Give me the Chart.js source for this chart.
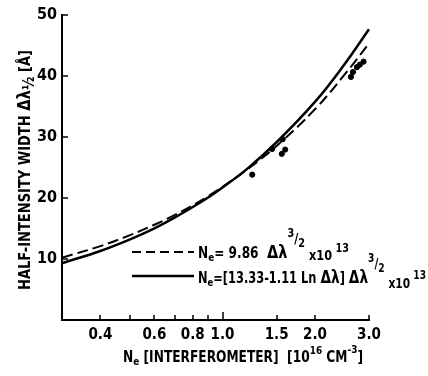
<!DOCTYPE html>
<html>
<head>
<meta charset="utf-8">
<script src="https://cdn.jsdelivr.net/npm/chart.js@4.4.1/dist/chart.umd.min.js"></script>
<style>
  html, body { margin: 0; padding: 0; background: #fff; }
  canvas { display: block; }
</style>
</head>
<body>
<canvas id="widthChart" width="428" height="376"></canvas>
<script>
// electron density (10^16 cm^-3) vs half-intensity width (A)
const dashedDensity = [0.3, 0.4, 0.5, 0.6, 0.7, 0.8, 0.9, 1.0, 1.2, 1.5, 2.0, 2.5, 3.0, 3.15];
const dashedWidth = [10.2, 12.1, 13.9, 15.6, 17.2, 18.8, 20.3, 21.8, 24.6, 28.5, 34.5, 40.2, 45.3, 46.8];
const solidDensity = [0.3, 0.4, 0.5, 0.6, 0.7, 0.8, 0.9, 1.0, 1.2, 1.5, 2.0, 2.5, 3.0, 3.07];
const solidWidth = [9.3, 11.3, 13.2, 15.0, 16.8, 18.5, 20.1, 21.7, 24.7, 29.1, 35.7, 41.9, 47.6, 48.3];
const measuredDensity = [1.25, 1.45, 1.56, 1.57, 1.60, 2.62, 2.66, 2.74, 2.80, 2.88];
const measuredWidth = [23.8, 28.0, 27.2, 29.6, 27.9, 39.8, 40.6, 41.4, 41.8, 42.3];
const xTickValues = [0.4, 0.5, 0.6, 0.7, 0.8, 0.9, 1.0, 1.5, 2.0, 3.0];
const xTickLabels = ['0.4', '', '0.6', '', '0.8', '', '1.0', '1.5', '2.0', '3.0'];
const yTickValues = [10, 20, 30, 40, 50];

const FONT = "'Liberation Sans Narrow', 'DejaVu Sans Condensed', 'Arial Narrow', sans-serif";

document.addEventListener('DOMContentLoaded', function() {
    const ctx = document.getElementById('widthChart').getContext('2d');

    function toPoints(xs, ys) {
        return xs.map((v, i) => ({ x: v, y: ys[i] }));
    }

    // draws a run of [text, size, dy] pieces, squeezed to a given width
    function drawRich(c, parts, x, y, width, align) {
        c.save();
        let total = 0;
        parts.forEach(p => {
            c.font = `bold ${p[1]}px ${FONT}`;
            total += c.measureText(p[0]).width;
        });
        const k = width ? width / total : 1;
        c.translate(x, y);
        c.scale(k, 1);
        let cx = align === 'center' ? -total / 2 : 0;
        c.textBaseline = 'alphabetic';
        c.textAlign = 'left';
        parts.forEach(p => {
            c.font = `bold ${p[1]}px ${FONT}`;
            c.fillText(p[0], cx, p[2] || 0);
            cx += c.measureText(p[0]).width;
        });
        c.restore();
    }

    const tickMarks = {
        id: 'tickMarks',
        afterDraw(chart) {
            const c = chart.ctx;
            const a = chart.chartArea;
            const { x, y } = chart.scales;
            c.save();
            c.strokeStyle = '#000';
            c.lineWidth = 1.5;
            c.beginPath();
            xTickValues.forEach(v => {
                const px = Math.round(x.getPixelForValue(v));
                c.moveTo(px, a.bottom);
                c.lineTo(px, a.bottom - (v === 1 ? 8 : 5));
            });
            yTickValues.forEach(v => {
                const py = Math.round(y.getPixelForValue(v));
                c.moveTo(a.left, py);
                c.lineTo(a.left + 6, py);
            });
            c.stroke();
            c.restore();
        }
    };

    const annotations = {
        id: 'annotations',
        afterDraw(chart) {
            const c = chart.ctx;
            c.save();
            c.fillStyle = '#000';

            // y axis title
            c.save();
            c.translate(30, 170);
            c.rotate(-Math.PI / 2);
            drawRich(c, [
                ['HALF-INTENSITY WIDTH ', 15],
                ['\u0394\u03bb', 17],
                ['\u00bd', 15, 4],
                [' [\u00c5]', 15]
            ], 0, 0, 240, 'center');
            c.restore();

            // x axis title
            drawRich(c, [
                ['N', 15],
                ['e', 11, 3],
                [' [INTERFEROMETER]  [10', 15],
                ['16', 11, -8],
                [' CM', 15],
                ['-3', 11, -9],
                [']', 15]
            ], 243, 362, 240, 'center');

            // legend
            c.strokeStyle = '#000';
            c.lineWidth = 2;
            c.setLineDash([9, 5]);
            c.beginPath();
            c.moveTo(132, 252);
            c.lineTo(194, 252);
            c.stroke();
            c.setLineDash([]);
            c.lineWidth = 2.5;
            c.beginPath();
            c.moveTo(132, 276);
            c.lineTo(194, 276);
            c.stroke();

            drawRich(c, [
                ['N', 15],
                ['e', 11, 3],
                ['= 9.86  ', 15],
                ['\u0394\u03bb', 18],
                ['3', 12, -21],
                ['/', 14, -15],
                ['2', 12, -11],
                [' x10', 14, 2],
                [' 13', 12, -6]
            ], 198, 258, 151);

            drawRich(c, [
                ['N', 15],
                ['e', 11, 3],
                ['=[13.33-1.11 Ln ', 15],
                ['\u0394\u03bb', 18],
                ['] ', 15],
                ['\u0394\u03bb', 18],
                ['3', 12, -21],
                ['/', 14, -15],
                ['2', 12, -11],
                [' x10', 14, 5],
                [' 13', 12, -4]
            ], 198, 283, 228);
            c.restore();
        }
    };

    new Chart(ctx, {
        type: 'line',
        data: {
            datasets: [{
                label: 'dashed fit',
                data: toPoints(dashedDensity, dashedWidth),
                borderColor: '#000',
                borderWidth: 2,
                borderDash: [11, 5],
                pointRadius: 0,
                tension: 0.4,
                clip: false
            }, {
                label: 'solid fit',
                data: toPoints(solidDensity, solidWidth),
                borderColor: '#000',
                borderWidth: 2.5,
                pointRadius: 0,
                tension: 0.4,
                clip: false
            }, {
                type: 'scatter',
                label: 'measured',
                data: toPoints(measuredDensity, measuredWidth),
                backgroundColor: '#000',
                borderColor: '#000',
                pointRadius: 2.6,
                showLine: false
            }]
        },
        options: {
            responsive: false,
            animation: false,
            layout: { padding: { top: 12, right: 59, left: 0, bottom: 0 } },
            plugins: {
                legend: { display: false },
                tooltip: { enabled: false }
            },
            scales: {
                x: {
                    type: 'logarithmic',
                    min: 0.3,
                    max: 3.0,
                    afterBuildTicks: axis => {
                        axis.ticks = xTickValues.map(v => ({ value: v }));
                    },
                    afterFit: s => { s.height = 56; },
                    ticks: {
                        autoSkip: false,
                        maxRotation: 0,
                        padding: 6,
                        color: '#000',
                        font: { family: FONT, size: 15, weight: 'bold' },
                        callback: (v, i) => xTickLabels[i]
                    },
                    grid: { drawOnChartArea: false, drawTicks: false },
                    border: { display: true, color: '#000', width: 2 }
                },
                y: {
                    min: 0,
                    max: 50,
                    afterBuildTicks: axis => {
                        axis.ticks = yTickValues.map(v => ({ value: v }));
                    },
                    afterFit: s => { s.width = 62; },
                    ticks: {
                        padding: 5,
                        color: '#000',
                        font: { family: FONT, size: 16, weight: 'bold' }
                    },
                    grid: { drawOnChartArea: false, drawTicks: false },
                    border: { display: true, color: '#000', width: 2 }
                }
            }
        },
        plugins: [tickMarks, annotations]
    });
});
</script>
</body>
</html>
